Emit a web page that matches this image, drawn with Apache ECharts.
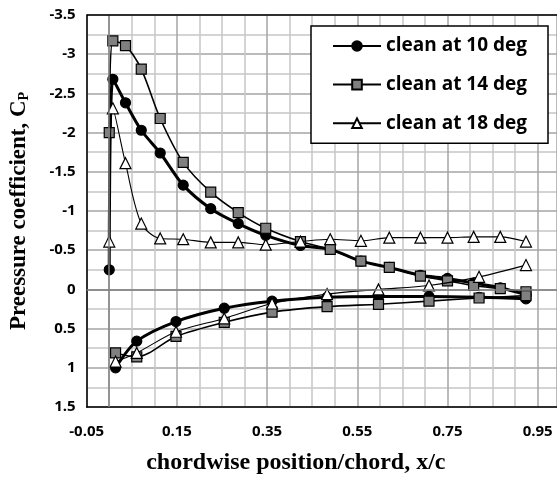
<!DOCTYPE html>
<html>
<head>
<meta charset="utf-8">
<script src="https://cdn.jsdelivr.net/npm/echarts@6/dist/echarts.min.js"></script>
<style>html,body{margin:0;padding:0;background:#fff;}#c{width:557px;height:478px;}</style>
</head>
<body>
<div id="c"></div>
<script>
// chordwise stations (x/c)
const upperX = [0, 0.008, 0.036, 0.071, 0.113, 0.164, 0.225, 0.286, 0.347, 0.424, 0.49, 0.558, 0.621, 0.69, 0.75, 0.808, 0.867, 0.924];
const lowerX = [0.014, 0.061, 0.148, 0.255, 0.361, 0.483, 0.597, 0.709, 0.82, 0.924];
// pressure coefficients
const cp10Upper = [-0.25, -2.68, -2.38, -2.03, -1.74, -1.33, -1.03, -0.84, -0.69, -0.56, -0.51, -0.36, -0.28, -0.18, -0.14, -0.08, -0.02, 0.07];
const cp10Lower = [1.0, 0.66, 0.41, 0.24, 0.15, 0.10, 0.09, 0.09, 0.10, 0.12];
const cp14Upper = [-2.0, -3.17, -3.11, -2.81, -2.18, -1.62, -1.24, -0.98, -0.78, -0.61, -0.51, -0.36, -0.28, -0.17, -0.11, -0.05, -0.01, 0.03];
const cp14Lower = [0.81, 0.86, 0.60, 0.42, 0.29, 0.22, 0.19, 0.15, 0.11, 0.08];
const cp18Upper = [-0.61, -2.31, -1.61, -0.84, -0.65, -0.64, -0.60, -0.60, -0.57, -0.61, -0.64, -0.62, -0.66, -0.66, -0.66, -0.67, -0.67, -0.61];
const cp18Lower = [0.92, 0.81, 0.54, 0.37, 0.18, 0.06, 0.00, -0.05, -0.16, -0.31];
const seriesNames = ['clean at 10 deg', 'clean at 14 deg', 'clean at 18 deg'];
const xTickLabels = ['-0.05', '0.15', '0.35', '0.55', '0.75', '0.95'];
const yTickLabels = ['-3.5', '-3', '-2.5', '-2', '-1.5', '-1', '-0.5', '0', '0.5', '1', '1.5'];

const pair = (xs, ys) => xs.map((x, i) => [x, ys[i]]);

const styles = [
  {symbol: 'circle', symbolSize: 10, lw: 3, fill: '#000'},
  {symbol: 'rect', symbolSize: 10, lw: 1.6, fill: '#808080'},
  {symbol: 'triangle', symbolSize: 11, lw: 1.1, fill: '#fff'}
];
const dataSets = [[cp10Upper, cp10Lower], [cp14Upper, cp14Lower], [cp18Upper, cp18Lower]];

const X_MIN = -0.05, X_MAX = 0.9928, Y_MIN = -3.5, Y_MAX = 1.5;

const series = [{
  type: 'line', data: [], silent: true, z: 1,
  markLine: {
    silent: true, symbol: 'none', label: {show: false},
    lineStyle: {color: '#7f7f7f', width: 1.5, type: 'solid'},
    emphasis: {disabled: true},
    data: [{xAxis: 0}, {yAxis: 0}, {yAxis: Y_MIN, lineStyle: {color: '#000', width: 1.5}}]
  }
}];
dataSets.forEach((d, k) => {
  const st = styles[k];
  [pair(upperX, d[0]), pair(lowerX, d[1])].forEach(data => {
    series.push({
      name: seriesNames[k], type: 'line', data: data, smooth: 0.3,
      symbol: st.symbol, symbolSize: st.symbolSize, z: 2 + k,
      lineStyle: {color: '#000', width: st.lw},
      itemStyle: {color: st.fill, borderColor: '#000', borderWidth: 1.2},
      emphasis: {disabled: true}
    });
  });
});

const chart = echarts.init(document.getElementById('c'), null, {renderer: 'canvas'});
chart.setOption({
  animation: false,
  backgroundColor: '#fff',
  grid: {left: 86.7, top: 15, width: 470.3, height: 392, show: false, outerBoundsContain: 'axisLabel'},
  legend: {
    data: seriesNames, orient: 'vertical', left: 311, top: 26,
    padding: [9, 21, 9, 21], itemGap: 16.6, itemWidth: 48, itemHeight: 12,
    backgroundColor: '#fff', borderColor: '#000', borderWidth: 1.5, borderRadius: 0,
    textStyle: {fontFamily: 'Open Sans', fontWeight: 'bold', fontSize: 19, color: '#000', lineHeight: 22}
  },
  xAxis: {
    type: 'value', min: X_MIN, max: X_MAX, interval: 0.2,
    name: 'chordwise position/chord, x/c', nameLocation: 'middle', nameGap: 43,
    nameTextStyle: {fontFamily: 'Liberation Serif', fontWeight: 'bold', fontSize: 24, lineHeight: 26, color: '#000', padding: [0, 52, 0, 0]},
    axisLine: {onZero: false, lineStyle: {color: '#000', width: 1.5}},
    axisTick: {show: false},
    axisLabel: {
      showMaxLabel: false, margin: 17, fontFamily: 'Open Sans', fontWeight: 'bold', fontSize: 15, color: '#000',
      formatter: v => { const s = v.toFixed(2); return xTickLabels.indexOf(s) >= 0 ? s : ''; }
    },
    splitLine: {show: true, lineStyle: {color: '#a5a5a5', width: 1.5}},
    minorTick: {show: true, splitNumber: 4, length: 0},
    minorSplitLine: {show: true, lineStyle: {color: '#c6c6c6', width: 1.5}}
  },
  yAxis: {
    type: 'value', min: Y_MIN, max: Y_MAX, interval: 0.5, inverse: true,
    name: 'Preessure coefficient, C{s|P}', nameLocation: 'middle', nameGap: 55, nameRotate: 90,
    nameTextStyle: {
      fontFamily: 'Liberation Serif', fontWeight: 'bold', fontSize: 23, lineHeight: 26, color: '#000',
      rich: {s: {fontFamily: 'Liberation Serif', fontWeight: 'bold', fontSize: 14, lineHeight: 14, color: '#000', verticalAlign: 'bottom', padding: [10, 0, 0, 0]}}
    },
    axisLine: {onZero: false, lineStyle: {color: '#000', width: 1.5}},
    axisTick: {show: false},
    axisLabel: {
      margin: 11, fontFamily: 'Open Sans', fontWeight: 'bold', fontSize: 15, color: '#000',
      formatter: v => { const s = String(+v.toFixed(2)); return yTickLabels.indexOf(s) >= 0 ? s : ''; }
    },
    splitLine: {show: true, lineStyle: {color: '#a5a5a5', width: 1.5}},
    minorTick: {show: true, splitNumber: 2, length: 0},
    minorSplitLine: {show: true, lineStyle: {color: '#c6c6c6', width: 1.5}}
  },
  series: series
});
</script>
</body>
</html>
